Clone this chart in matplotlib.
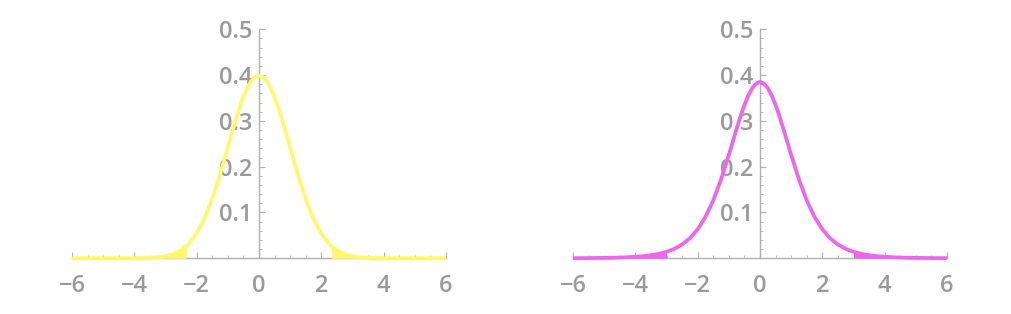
import matplotlib
matplotlib.use("Agg")
import matplotlib.pyplot as plt
from matplotlib.ticker import MultipleLocator, FixedLocator, FixedFormatter

# ---- data ----
x_normal = [-6.0, -5.75, -5.5, -5.25, -5.0, -4.75, -4.5, -4.25, -4.0, -3.75, -3.5, -3.25,
            -3.0, -2.75, -2.5, -2.33, -2.25, -2.0, -1.75, -1.5, -1.25, -1.0, -0.875, -0.75, -0.625, -0.5,
            -0.375, -0.25, -0.125, 0.0, 0.125, 0.25, 0.375, 0.5, 0.625, 0.75, 0.875, 1.0, 1.25, 1.5, 1.75, 2.0,
            2.25, 2.33, 2.5, 2.75, 3.0, 3.25, 3.5, 3.75, 4.0, 4.25, 4.5, 4.75, 5.0, 5.25, 5.5, 5.75, 6.0]
y_normal = [0.0, 0.0, 0.0, 0.0, 0.0, 0.0, 0.0, 0.0, 0.0001, 0.0004, 0.0009, 0.0020,
            0.0044, 0.0091, 0.0175, 0.0264, 0.0317, 0.0540, 0.0863, 0.1295, 0.1826, 0.2420, 0.2719, 0.3011, 0.3280, 0.3521,
            0.3718, 0.3867, 0.3958, 0.3989, 0.3958, 0.3867, 0.3718, 0.3521, 0.3280, 0.3011, 0.2719, 0.2420, 0.1826, 0.1295, 0.0863, 0.0540,
            0.0317, 0.0264, 0.0175, 0.0091, 0.0044, 0.0020, 0.0009, 0.0004, 0.0001, 0.0, 0.0, 0.0, 0.0, 0.0, 0.0, 0.0, 0.0]
cut_normal = 2.33

x_heavy = [-6.0, -5.75, -5.5, -5.25, -5.0, -4.75, -4.5, -4.25, -4.0, -3.75, -3.5, -3.25,
           -3.0, -2.75, -2.5, -2.25, -2.0, -1.75, -1.5, -1.25, -1.0, -0.875, -0.75, -0.625, -0.5, -0.375, -0.25, -0.125,
           0.0, 0.125, 0.25, 0.375, 0.5, 0.625, 0.75, 0.875, 1.0, 1.25, 1.5, 1.75, 2.0, 2.25, 2.5, 2.75,
           3.0, 3.25, 3.5, 3.75, 4.0, 4.25, 4.5, 4.75, 5.0, 5.25, 5.5, 5.75, 6.0]
y_heavy = [0.0003, 0.0004, 0.0005, 0.0007, 0.0009, 0.0012, 0.0017, 0.0023, 0.0033, 0.0047, 0.0067, 0.0097,
           0.0141, 0.0206, 0.0300, 0.0437, 0.0631, 0.0902, 0.1263, 0.1720, 0.2257, 0.2542, 0.2826, 0.3098, 0.3346, 0.3556, 0.3716, 0.3816,
           0.3850, 0.3816, 0.3716, 0.3556, 0.3346, 0.3098, 0.2826, 0.2542, 0.2257, 0.1720, 0.1263, 0.0902, 0.0631, 0.0437, 0.0300, 0.0206,
           0.0141, 0.0097, 0.0067, 0.0047, 0.0033, 0.0023, 0.0017, 0.0012, 0.0009, 0.0007, 0.0005, 0.0004, 0.0003]
cut_heavy = 3.0

x_ticks = [-6, -4, -2, 0, 2, 4, 6]
x_ticklabels = ["\u22126", "\u22124", "\u22122", "0", "2", "4", "6"]
y_ticks = [0.1, 0.2, 0.3, 0.4, 0.5]
y_ticklabels = ["0.1", "0.2", "0.3", "0.4", "0.5"]

plt.rcParams['font.family'] = ['Open Sans', 'DejaVu Sans']
plt.rcParams['font.weight'] = 'semibold'

fig = plt.figure(figsize=(10.12, 3.14), dpi=100)
AX_COLOR = "#b0b0b0"
TXT_COLOR = "#9a9a9a"

def panel(rect, xs, ys, cut, color):
    ax = fig.add_axes(rect)
    ax.plot(xs, ys, color=color, lw=2.7, clip_on=False, solid_capstyle='butt',
            solid_joinstyle='round', zorder=3)
    ax.fill_between(xs, 0, ys, where=[v <= -cut for v in xs], color=color, lw=0, clip_on=False, zorder=3)
    ax.fill_between(xs, 0, ys, where=[v >= cut for v in xs], color=color, lw=0, clip_on=False, zorder=3)
    ax.set_xlim(-6, 6)
    ax.set_ylim(0, 0.5)
    for s in ("top", "right"):
        ax.spines[s].set_visible(False)
    ax.spines["left"].set_position(("data", 0))
    ax.spines["bottom"].set_position(("data", 0))
    for s in ("left", "bottom"):
        ax.spines[s].set_color(AX_COLOR)
        ax.spines[s].set_linewidth(1.0)
        ax.spines[s].set_zorder(1)
    ax.xaxis.set_major_locator(FixedLocator(x_ticks))
    ax.xaxis.set_major_formatter(FixedFormatter(x_ticklabels))
    ax.xaxis.set_minor_locator(MultipleLocator(0.5))
    ax.yaxis.set_major_locator(FixedLocator(y_ticks))
    ax.yaxis.set_major_formatter(FixedFormatter(y_ticklabels))
    ax.yaxis.set_minor_locator(MultipleLocator(0.02))
    ax.tick_params(axis='x', which='major', direction='in', length=4, width=0.8,
                   color=AX_COLOR, labelcolor=TXT_COLOR, labelsize=17, pad=11)
    ax.tick_params(axis='x', which='minor', direction='in', length=2, width=0.6, color=AX_COLOR)
    ax.tick_params(axis='y', which='major', direction='in', length=4, width=0.8,
                   color=AX_COLOR, labelcolor=TXT_COLOR, labelsize=17, pad=5)
    ax.tick_params(axis='y', which='minor', direction='in', length=2, width=0.6, color=AX_COLOR)
    ax.patch.set_alpha(0)
    return ax

panel([0.0711, 0.1774, 0.3696, 0.7293], x_normal, y_normal, cut_normal, "#fff86c")
panel([0.5662, 0.1774, 0.3696, 0.7293], x_heavy, y_heavy, cut_heavy, "#ee66ee")

fig.savefig("out.png", dpi=100)
